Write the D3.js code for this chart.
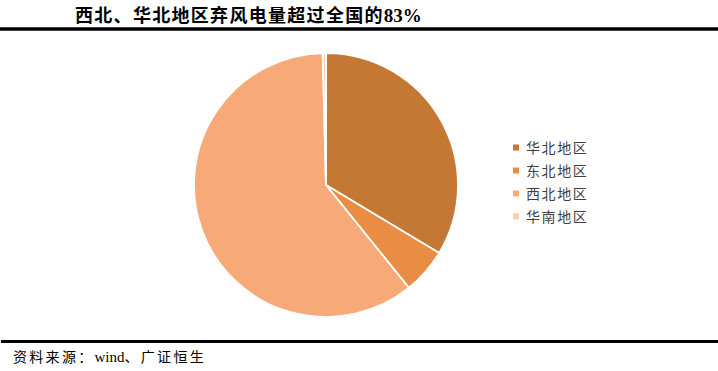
<!DOCTYPE html>
<html>
<head>
<meta charset="utf-8">
<script src="https://cdn.jsdelivr.net/npm/d3@7"></script>
<style>
  body { margin: 0; background: #fff; }
  svg { display: block; }
</style>
</head>
<body>
<svg id="chart" width="718" height="371"></svg>
<script>
// regions and their share of curtailed wind power (%)
var regions = ["华北地区", "东北地区", "西北地区", "华南地区"];
var shares = [33.6, 5.6, 60.4, 0.4];
var colors = ["#c47834", "#e98d44", "#f7aa78", "#f9cdb0"];

const width = 718, height = 371;
const cx = 326, cy = 185, radius = 132;

var svg = d3.select("#chart");

// title
var title = svg.append("text")
    .attr("x", 75)
    .attr("y", 22)
    .attr("font-weight", "bold")
    .attr("font-size", 18)
    .attr("fill", "#000");
title.append("tspan")
    .attr("font-family", "'Noto Sans CJK SC', sans-serif")
    .style("letter-spacing", "1.3px")
    .text("西北、华北地区弃风电量超过全国的");
title.append("tspan")
    .attr("font-family", "'Liberation Serif', serif")
    .attr("font-size", 19)
    .text("83%");

// top and bottom rules
svg.append("line")
    .attr("x1", 0).attr("x2", 718)
    .attr("y1", 29).attr("y2", 29)
    .attr("stroke", "#000").attr("stroke-width", 3.5);
svg.append("line")
    .attr("x1", 1).attr("x2", 718)
    .attr("y1", 341.5).attr("y2", 341.5)
    .attr("stroke", "#000").attr("stroke-width", 3);

// pie
var pie = d3.pie().sort(null).value(d => d)(shares);
var arc = d3.arc().innerRadius(0).outerRadius(radius);

svg.append("g")
    .attr("transform", "translate(" + cx + "," + cy + ")")
    .selectAll("path")
    .data(pie)
    .enter()
    .append("path")
    .attr("d", arc)
    .attr("fill", (d, i) => colors[i])
    .attr("stroke", "#fff")
    .attr("stroke-width", 1.8)
    .attr("stroke-linejoin", "round");

// legend
var yLegend = d3.scaleBand()
    .domain(regions)
    .range([136, 228]);

var legend = svg.append("g")
    .selectAll("g")
    .data(regions)
    .enter()
    .append("g")
    .attr("transform", d => "translate(513," + (yLegend(d) + yLegend.bandwidth() / 2) + ")");

legend.append("rect")
    .attr("x", 0)
    .attr("y", -3)
    .attr("width", 6)
    .attr("height", 6)
    .attr("fill", (d, i) => colors[i]);

legend.append("text")
    .attr("x", 13)
    .attr("y", 5)
    .attr("font-family", "'Noto Sans CJK SC', sans-serif")
    .attr("font-size", 14)
    .style("letter-spacing", "1.6px")
    .attr("fill", "#404040")
    .text(d => d);

// source note
var src = svg.append("text")
    .attr("x", 13)
    .attr("y", 362)
    .attr("font-size", 14)
    .attr("fill", "#000");
src.append("tspan")
    .attr("font-family", "'Noto Sans CJK SC', sans-serif")
    .style("letter-spacing", "2.3px")
    .text("资料来源：");
src.append("tspan")
    .attr("font-family", "'Liberation Serif', serif")
    .attr("font-size", 15)
    .text("wind");
src.append("tspan")
    .attr("font-family", "'Noto Sans CJK SC', sans-serif")
    .style("letter-spacing", "2.3px")
    .text("、广证恒生");
</script>
</body>
</html>
